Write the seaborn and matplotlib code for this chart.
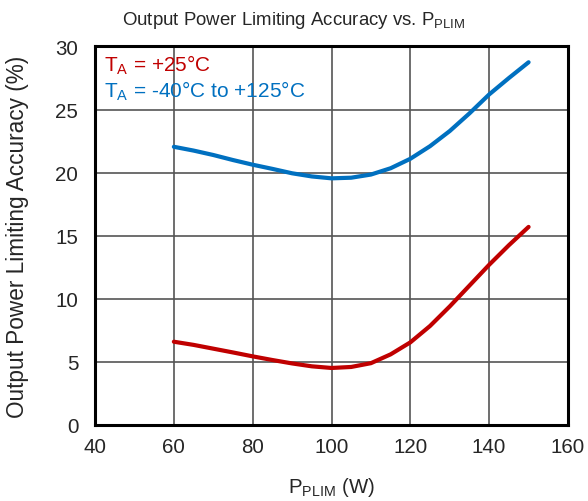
import matplotlib
matplotlib.use("Agg")
import matplotlib.pyplot as plt
import seaborn as sns
import pandas as pd

p_plim = [60, 65, 70, 75, 80, 85, 90, 95, 100, 105, 110, 115, 120, 125, 130, 135, 140, 145, 150]
acc_25c = [6.6, 6.35, 6.05, 5.75, 5.44, 5.15, 4.88, 4.65, 4.52, 4.6, 4.9, 5.6, 6.55, 7.85, 9.4, 11.05, 12.7, 14.25, 15.7]
acc_range = [22.05, 21.75, 21.4, 21.0, 20.63, 20.3, 19.95, 19.7, 19.55, 19.6, 19.85, 20.35, 21.1, 22.1, 23.3, 24.7, 26.2, 27.5, 28.75]
series_labels = [r"T$_\mathregular{A}$ = +25°C", r"T$_\mathregular{A}$ = -40°C to +125°C"]
colors = ["#C00000", "#0070C0"]

sns.set_style("white")
plt.rcParams['font.family'] = ['Liberation Sans', 'DejaVu Sans']
plt.rcParams['mathtext.fontset'] = 'custom'
plt.rcParams['mathtext.rm'] = 'Liberation Sans'

df = pd.DataFrame({
    "P": p_plim * 2,
    "acc": acc_25c + acc_range,
    "series": [series_labels[0]] * len(p_plim) + [series_labels[1]] * len(p_plim),
})

fig = plt.figure(figsize=(5.88, 5.02), dpi=100)
ax = fig.add_axes([0.1616, 0.1514, 0.8044, 0.754])
sns.lineplot(data=df, x="P", y="acc", hue="series", palette=colors, linewidth=3,
             ax=ax, legend=False, sort=True)

ax.set_xlim(40, 160)
ax.set_ylim(0, 30)
ax.set_xticks(range(40, 161, 20))
ax.set_yticks(range(0, 31, 5))
ax.grid(True, color="#555555", linewidth=1.2)
ax.set_axisbelow(True)
for s in ax.spines.values():
    s.set_linewidth(2.2)
    s.set_color("black")
ax.tick_params(axis="y", length=0, labelsize=14.8, pad=12)
ax.tick_params(axis="x", length=0, labelsize=14.8, pad=9)
ax.set_xlabel(r"P$_\mathregular{PLIM}$ (W)", fontsize=14.7, labelpad=13)
ax.set_ylabel("Output Power Limiting Accuracy (%)", fontsize=16.3, labelpad=19)
fig.text(0.5, 0.96, r"Output Power Limiting Accuracy vs. P$_\mathregular{PLIM}$",
         fontsize=13.4, ha="center", va="center")

ax.text(0.02, 0.985, series_labels[0], color=colors[0], fontsize=15, transform=ax.transAxes, va="top", ha="left")
ax.text(0.02, 0.915, series_labels[1], color=colors[1], fontsize=15, transform=ax.transAxes, va="top", ha="left")

fig.savefig("out.png", dpi=100)
